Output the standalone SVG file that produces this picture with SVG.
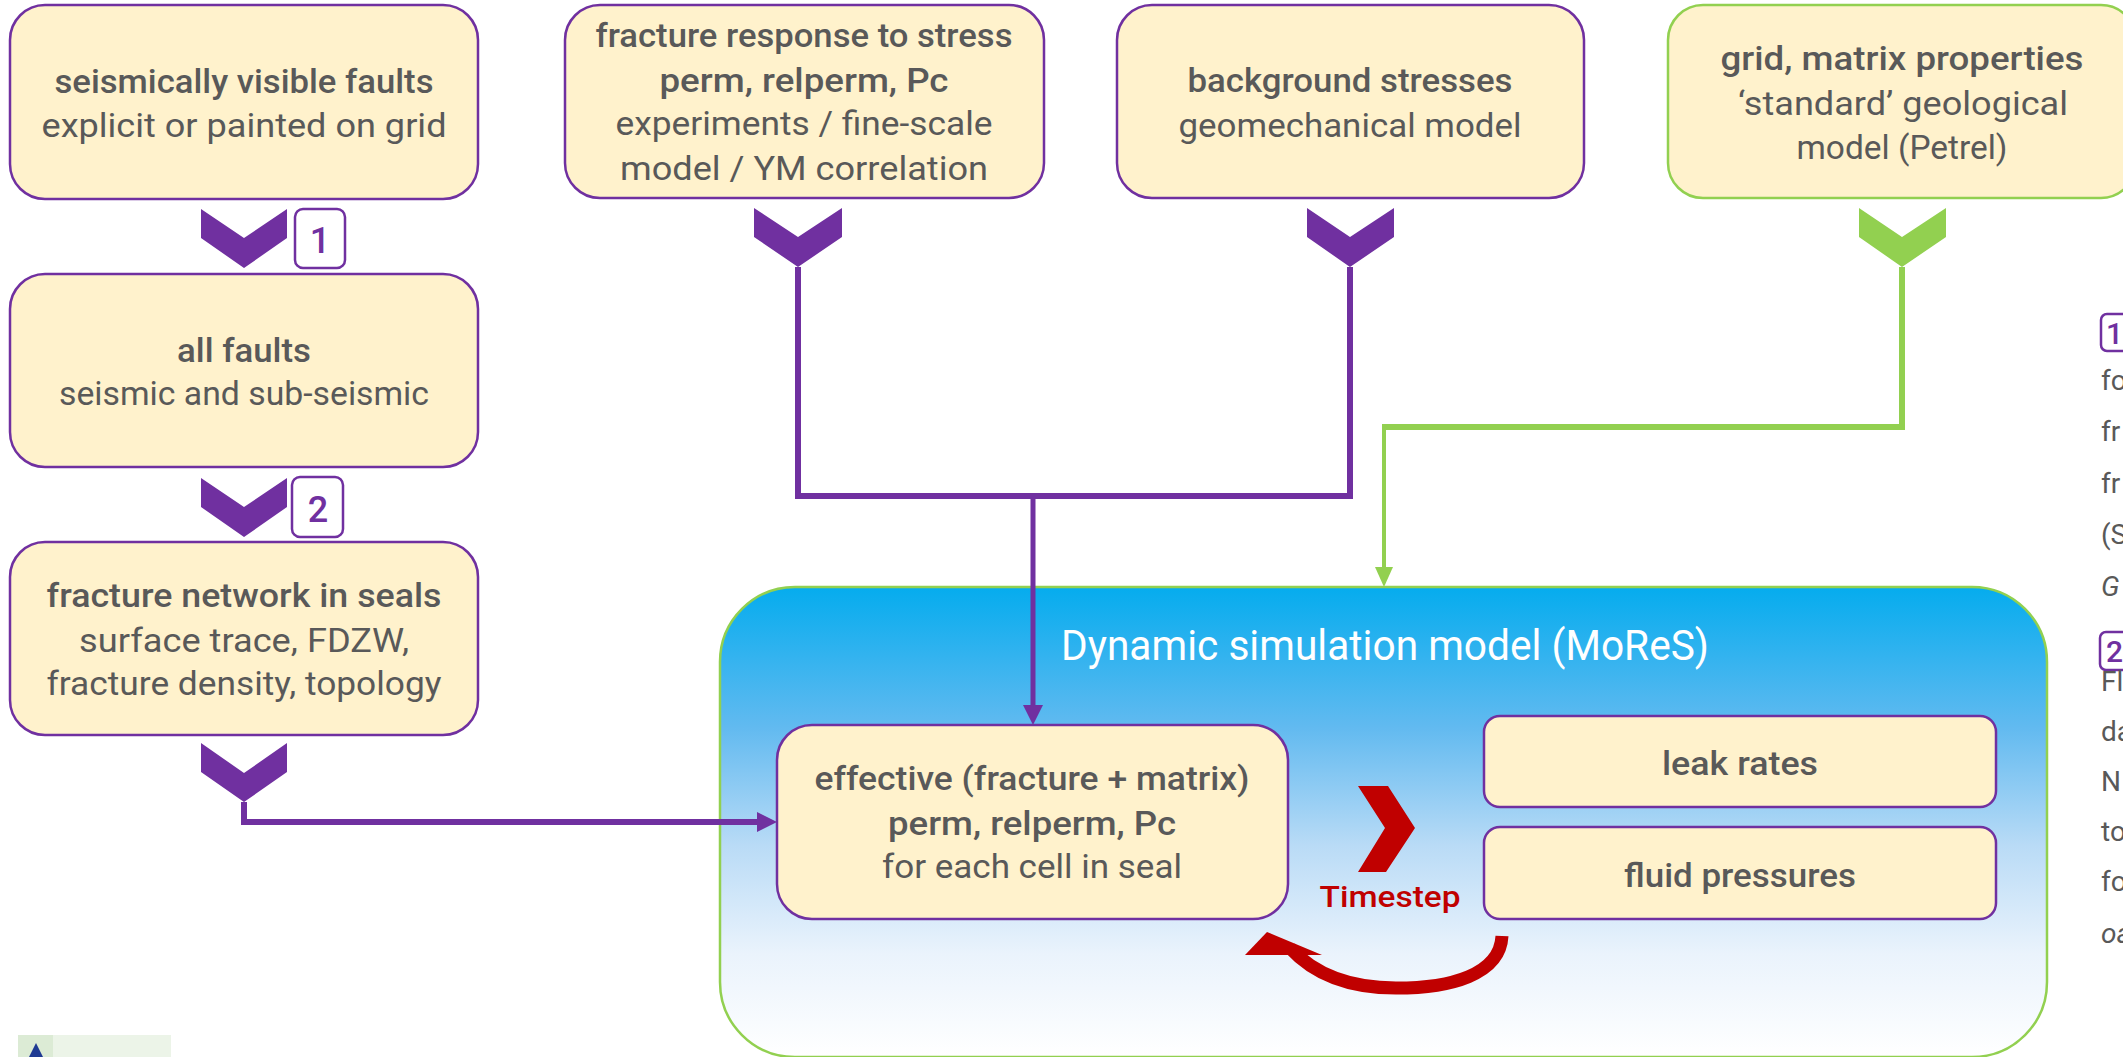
<svg xmlns="http://www.w3.org/2000/svg" width="2123" height="1057" viewBox="0 0 2123 1057">
<style>
.box{fill:#fff2cc;stroke:#7030a0;stroke-width:2.5}
.gbox{fill:#fff2cc;stroke:#92d050;stroke-width:2.5}
.t{font-family:Roboto,"Liberation Sans",Arial,sans-serif;fill:#595959;text-anchor:middle;font-size:34px}
.b{font-weight:500}
.cp{fill:#7030a0}
.cg{fill:#92d050}
.lp{fill:none;stroke:#7030a0;stroke-width:6;stroke-linejoin:miter}
.lg{fill:none;stroke:#92d050;stroke-width:6;stroke-linejoin:miter}
.badge{fill:#ffffff;stroke:#7030a0;stroke-width:2.5}
.bt{font-family:Roboto,"Liberation Sans",Arial,sans-serif;fill:#7030a0;font-weight:500;font-size:36px;text-anchor:middle}
.rt{font-family:Roboto,"Liberation Sans",Arial,sans-serif;fill:#595959;font-size:28px}
</style>
<defs>
<linearGradient id="simGrad" x1="0" y1="0" x2="0" y2="1">
<stop offset="0" stop-color="#05acee"/>
<stop offset="0.3" stop-color="#62baf0"/>
<stop offset="0.55" stop-color="#b9dbf6"/>
<stop offset="0.78" stop-color="#eaf3fc"/>
<stop offset="1" stop-color="#ffffff"/>
</linearGradient>
<marker id="arrP" markerUnits="userSpaceOnUse" markerWidth="20" markerHeight="20" refX="0" refY="10" orient="auto">
<path d="M0,0 L20,10 L0,20 Z" fill="#7030a0"/>
</marker>
<marker id="arrG" markerUnits="userSpaceOnUse" markerWidth="20" markerHeight="18" refX="0" refY="9" orient="auto">
<path d="M0,0 L20,9 L0,18 Z" fill="#92d050"/>
</marker>
</defs>

<g id="sim-model">
<rect x="720" y="587" width="1327" height="470" rx="75" ry="75" fill="url(#simGrad)" stroke="#92d050" stroke-width="2.5"/>
<text x="1385" y="660" style="font-family:Roboto,'Liberation Sans',Arial,sans-serif;font-size:42px;fill:#ffffff;text-anchor:middle" textLength="648" lengthAdjust="spacingAndGlyphs">Dynamic simulation model (MoReS)</text>
</g>

<g id="connectors">
<path class="lp" d="M244,802 V822 H757" marker-end="url(#arrP)"/>
<path class="lp" d="M798,267 V496 H1350 V267"/>
<path class="lp" style="stroke-width:5" d="M1033,496 V705" marker-end="url(#arrP)"/>
<path class="lg" d="M1902,267 V427 H1384"/>
<path class="lg" style="stroke-width:4" d="M1384,424 V567" marker-end="url(#arrG)"/>
</g>

<g id="chevrons">
<polygon class="cp" points="201,209 244,238 287,209 287,238 244,268 201,238"/>
<polygon class="cp" points="201,478 244,507 287,478 287,507 244,537 201,507"/>
<polygon class="cp" points="201,743 244,773 287,743 287,772 244,802 201,772"/>
<polygon class="cp" points="754,208 798,237 842,208 842,237 798,267 754,237"/>
<polygon class="cp" points="1307,208 1350,237 1394,208 1394,237 1350,267 1307,237"/>
<polygon class="cg" points="1859,208 1902,237 1946,208 1946,237 1902,267 1859,237"/>
</g>

<g id="badge-1">
<rect class="badge" x="295" y="209" width="50" height="59" rx="8"/>
<text class="bt" x="320" y="253">1</text>
</g>
<g id="badge-2">
<rect class="badge" x="292" y="477" width="51" height="60" rx="8"/>
<text class="bt" x="318" y="522">2</text>
</g>

<g id="node-seismic-faults">
<rect class="box" x="10" y="5" width="468" height="194" rx="35"/>
<text class="t b" x="244" y="93" textLength="379" lengthAdjust="spacingAndGlyphs">seismically visible faults</text>
<text class="t" x="244" y="137" textLength="405" lengthAdjust="spacingAndGlyphs">explicit or painted on grid</text>
</g>

<g id="node-all-faults">
<rect class="box" x="10" y="274" width="468" height="193" rx="35"/>
<text class="t b" x="244" y="362" textLength="134" lengthAdjust="spacingAndGlyphs">all faults</text>
<text class="t" x="244" y="405" textLength="370" lengthAdjust="spacingAndGlyphs">seismic and sub-seismic</text>
</g>

<g id="node-fracture-network">
<rect class="box" x="10" y="542" width="468" height="193" rx="35"/>
<text class="t b" x="244" y="607" textLength="395" lengthAdjust="spacingAndGlyphs">fracture network in seals</text>
<text class="t" x="244" y="652" textLength="330" lengthAdjust="spacingAndGlyphs">surface trace, FDZW,</text>
<text class="t" x="244" y="695" textLength="395" lengthAdjust="spacingAndGlyphs">fracture density, topology</text>
</g>

<g id="node-fracture-response">
<rect class="box" x="565" y="5" width="479" height="193" rx="35"/>
<text class="t b" x="804" y="47" textLength="417" lengthAdjust="spacingAndGlyphs">fracture response to stress</text>
<text class="t b" x="804" y="92" textLength="289" lengthAdjust="spacingAndGlyphs">perm, relperm, Pc</text>
<text class="t" x="804" y="135" textLength="377" lengthAdjust="spacingAndGlyphs">experiments / fine-scale</text>
<text class="t" x="804" y="180" textLength="368" lengthAdjust="spacingAndGlyphs">model / YM correlation</text>
</g>

<g id="node-background-stresses">
<rect class="box" x="1117" y="5" width="467" height="193" rx="35"/>
<text class="t b" x="1350" y="92" textLength="325" lengthAdjust="spacingAndGlyphs">background stresses</text>
<text class="t" x="1350" y="137" textLength="343" lengthAdjust="spacingAndGlyphs">geomechanical model</text>
</g>

<g id="node-grid-matrix">
<rect class="gbox" x="1668" y="5" width="468" height="193" rx="35"/>
<text class="t b" x="1902" y="70" textLength="363" lengthAdjust="spacingAndGlyphs">grid, matrix properties</text>
<text class="t" x="1903" y="115" textLength="330" lengthAdjust="spacingAndGlyphs">‘standard’ geological</text>
<text class="t" x="1902" y="159" textLength="211" lengthAdjust="spacingAndGlyphs">model (Petrel)</text>
</g>

<g id="node-effective">
<rect class="box" x="777" y="725" width="511" height="194" rx="35"/>
<text class="t b" x="1032" y="790" textLength="435" lengthAdjust="spacingAndGlyphs">effective (fracture + matrix)</text>
<text class="t b" x="1032" y="835" textLength="288" lengthAdjust="spacingAndGlyphs">perm, relperm, Pc</text>
<text class="t" x="1032" y="878" textLength="300" lengthAdjust="spacingAndGlyphs">for each cell in seal</text>
</g>

<g id="node-leak-rates">
<rect class="box" x="1484" y="716" width="512" height="91" rx="16"/>
<text class="t b" x="1740" y="775" textLength="156" lengthAdjust="spacingAndGlyphs">leak rates</text>
</g>

<g id="node-fluid-pressures">
<rect class="box" x="1484" y="827" width="512" height="92" rx="16"/>
<text class="t b" x="1740" y="887" textLength="232" lengthAdjust="spacingAndGlyphs">fluid pressures</text>
</g>

<g id="timestep">
<polygon fill="#c00000" points="1358,786 1388,786 1415,828 1386,872 1358,872 1385,828"/>
<text x="1390" y="907" style="font-family:Roboto,'Liberation Sans',Arial,sans-serif;font-size:30px;font-weight:500;fill:#c00000;text-anchor:middle" textLength="141" lengthAdjust="spacingAndGlyphs">Timestep</text>
<path d="M1502,936 C1500,975 1450,988 1396,988 C1345,988 1312,972 1290,948" fill="none" stroke="#c00000" stroke-width="13"/>
<polygon fill="#c00000" points="1245,955 1267,932 1322,955"/>
</g>

<g id="side-notes">
<rect class="badge" x="2101" y="314" width="40" height="37" rx="6"/>
<text class="bt" style="font-size:30px;text-anchor:start" x="2106" y="344">1</text>
<text class="rt" x="2101" y="390">fo</text>
<text class="rt" x="2101" y="441">fr</text>
<text class="rt" x="2101" y="493">fr</text>
<text class="rt" x="2101" y="544">(S</text>
<text class="rt" x="2101" y="596" font-style="italic">G</text>
<rect class="badge" x="2100" y="632" width="40" height="38" rx="6"/>
<text class="bt" style="font-size:30px;text-anchor:start" x="2106" y="662">2</text>
<text class="rt" x="2101" y="691">Fl</text>
<text class="rt" x="2101" y="741">da</text>
<text class="rt" x="2101" y="791">N</text>
<text class="rt" x="2101" y="841">to</text>
<text class="rt" x="2101" y="891">fo</text>
<text class="rt" x="2101" y="943" font-style="italic">oa</text>
</g>

<g id="logo">
<rect x="18" y="1035" width="153" height="22" fill="#ecf4e8"/>
<rect x="18" y="1035" width="35" height="22" fill="#dcebd5"/>
<polygon points="36,1043 29,1057 43,1057" fill="#1f3a93"/>
</g>
</svg>
